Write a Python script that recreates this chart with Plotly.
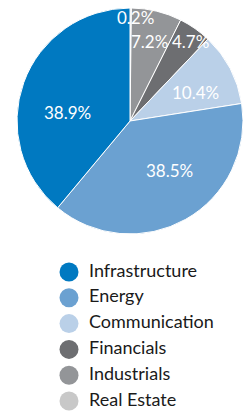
import math
import plotly.graph_objects as go

sectors = ["Infrastructure", "Energy", "Communication", "Financials", "Industrials", "Real Estate"]
shares = [38.9, 38.5, 10.4, 4.7, 7.2, 0.2]
colors = ["#0079C1", "#6BA1D1", "#BAD0E8", "#6D6E71", "#939598", "#C8C8C8"]

# ---- layout constants (pixels / style, not data) ----
W, H = 245, 411
CX, CY, R = 130, 121, 113            # pie centre and radius
# label placement: fraction of radius and angular nudge from the slice's mid-angle
label_rfrac = [0.56, 0.555, 0.635, 0.885, 0.72, 0.92]
label_nudge = [-12.6, -9.0, 4.0, 2.0, 0.0, 2.4]
LBL_FONT = dict(color="white", size=17, family="Lato")

# pie is drawn clockwise from 12 o'clock, last sector first
order = list(range(len(sectors)))[::-1]

fig = go.Figure()
fig.add_trace(go.Pie(
    labels=[sectors[i] for i in order], values=[shares[i] for i in order],
    sort=False, direction="clockwise", rotation=0,
    marker=dict(colors=[colors[i] for i in order], line=dict(color="white", width=1)),
    textinfo="none", showlegend=False, hoverinfo="label+value",
    domain=dict(x=[(CX-R)/W, (CX+R)/W], y=[1-(CY+R)/H, 1-(CY-R)/H]),
))

# slice labels at mid-angles computed from the shares
total = sum(shares)
cum = 0.0
mids = {}
for i in order:
    start = cum / total * 360
    cum += shares[i]
    end = cum / total * 360
    mids[i] = (start + end) / 2
for i, s in enumerate(sectors):
    a = math.radians(mids[i] + label_nudge[i])
    r = R * label_rfrac[i]
    px = CX + r * math.sin(a)
    py = CY - r * math.cos(a)
    fig.add_annotation(text=f"{shares[i]:.1f}%", xref="paper", yref="paper",
                       x=px/W, y=1-py/H, xanchor="center", yanchor="middle",
                       showarrow=False, font=LBL_FONT)

# hand-drawn legend: one row per sector
rows = list(range(len(sectors)))
fig.add_trace(go.Scatter(
    x=[69]*len(sectors), y=rows, mode="markers",
    marker=dict(symbol="circle", size=19, color=colors, line=dict(width=0)),
    showlegend=False, hoverinfo="skip", cliponaxis=False,
))
fig.add_trace(go.Scatter(
    x=[89]*len(sectors), y=rows, mode="text", text=sectors,
    textposition="middle right",
    textfont=dict(size=18, family="Lato", color="#1a1a1a"),
    showlegend=False, hoverinfo="skip", cliponaxis=False,
))

row_px = 25.8
top_px, first_px, last_px = 250, 272, 401
fig.update_layout(
    width=W, height=H, margin=dict(l=0, r=0, t=0, b=0, autoexpand=False),
    paper_bgcolor="white", plot_bgcolor="rgba(0,0,0,0)",
    showlegend=False,
    xaxis=dict(visible=False, range=[0, W], domain=[0, 1], fixedrange=True),
    yaxis=dict(visible=False, domain=[0, 1-top_px/H], fixedrange=True,
               range=[5 + (H-last_px)/row_px, -(first_px-top_px)/row_px]),
)
fig.write_html("out.html", config={"displayModeBar": False},
               post_script="document.body.style.margin='0px';")
